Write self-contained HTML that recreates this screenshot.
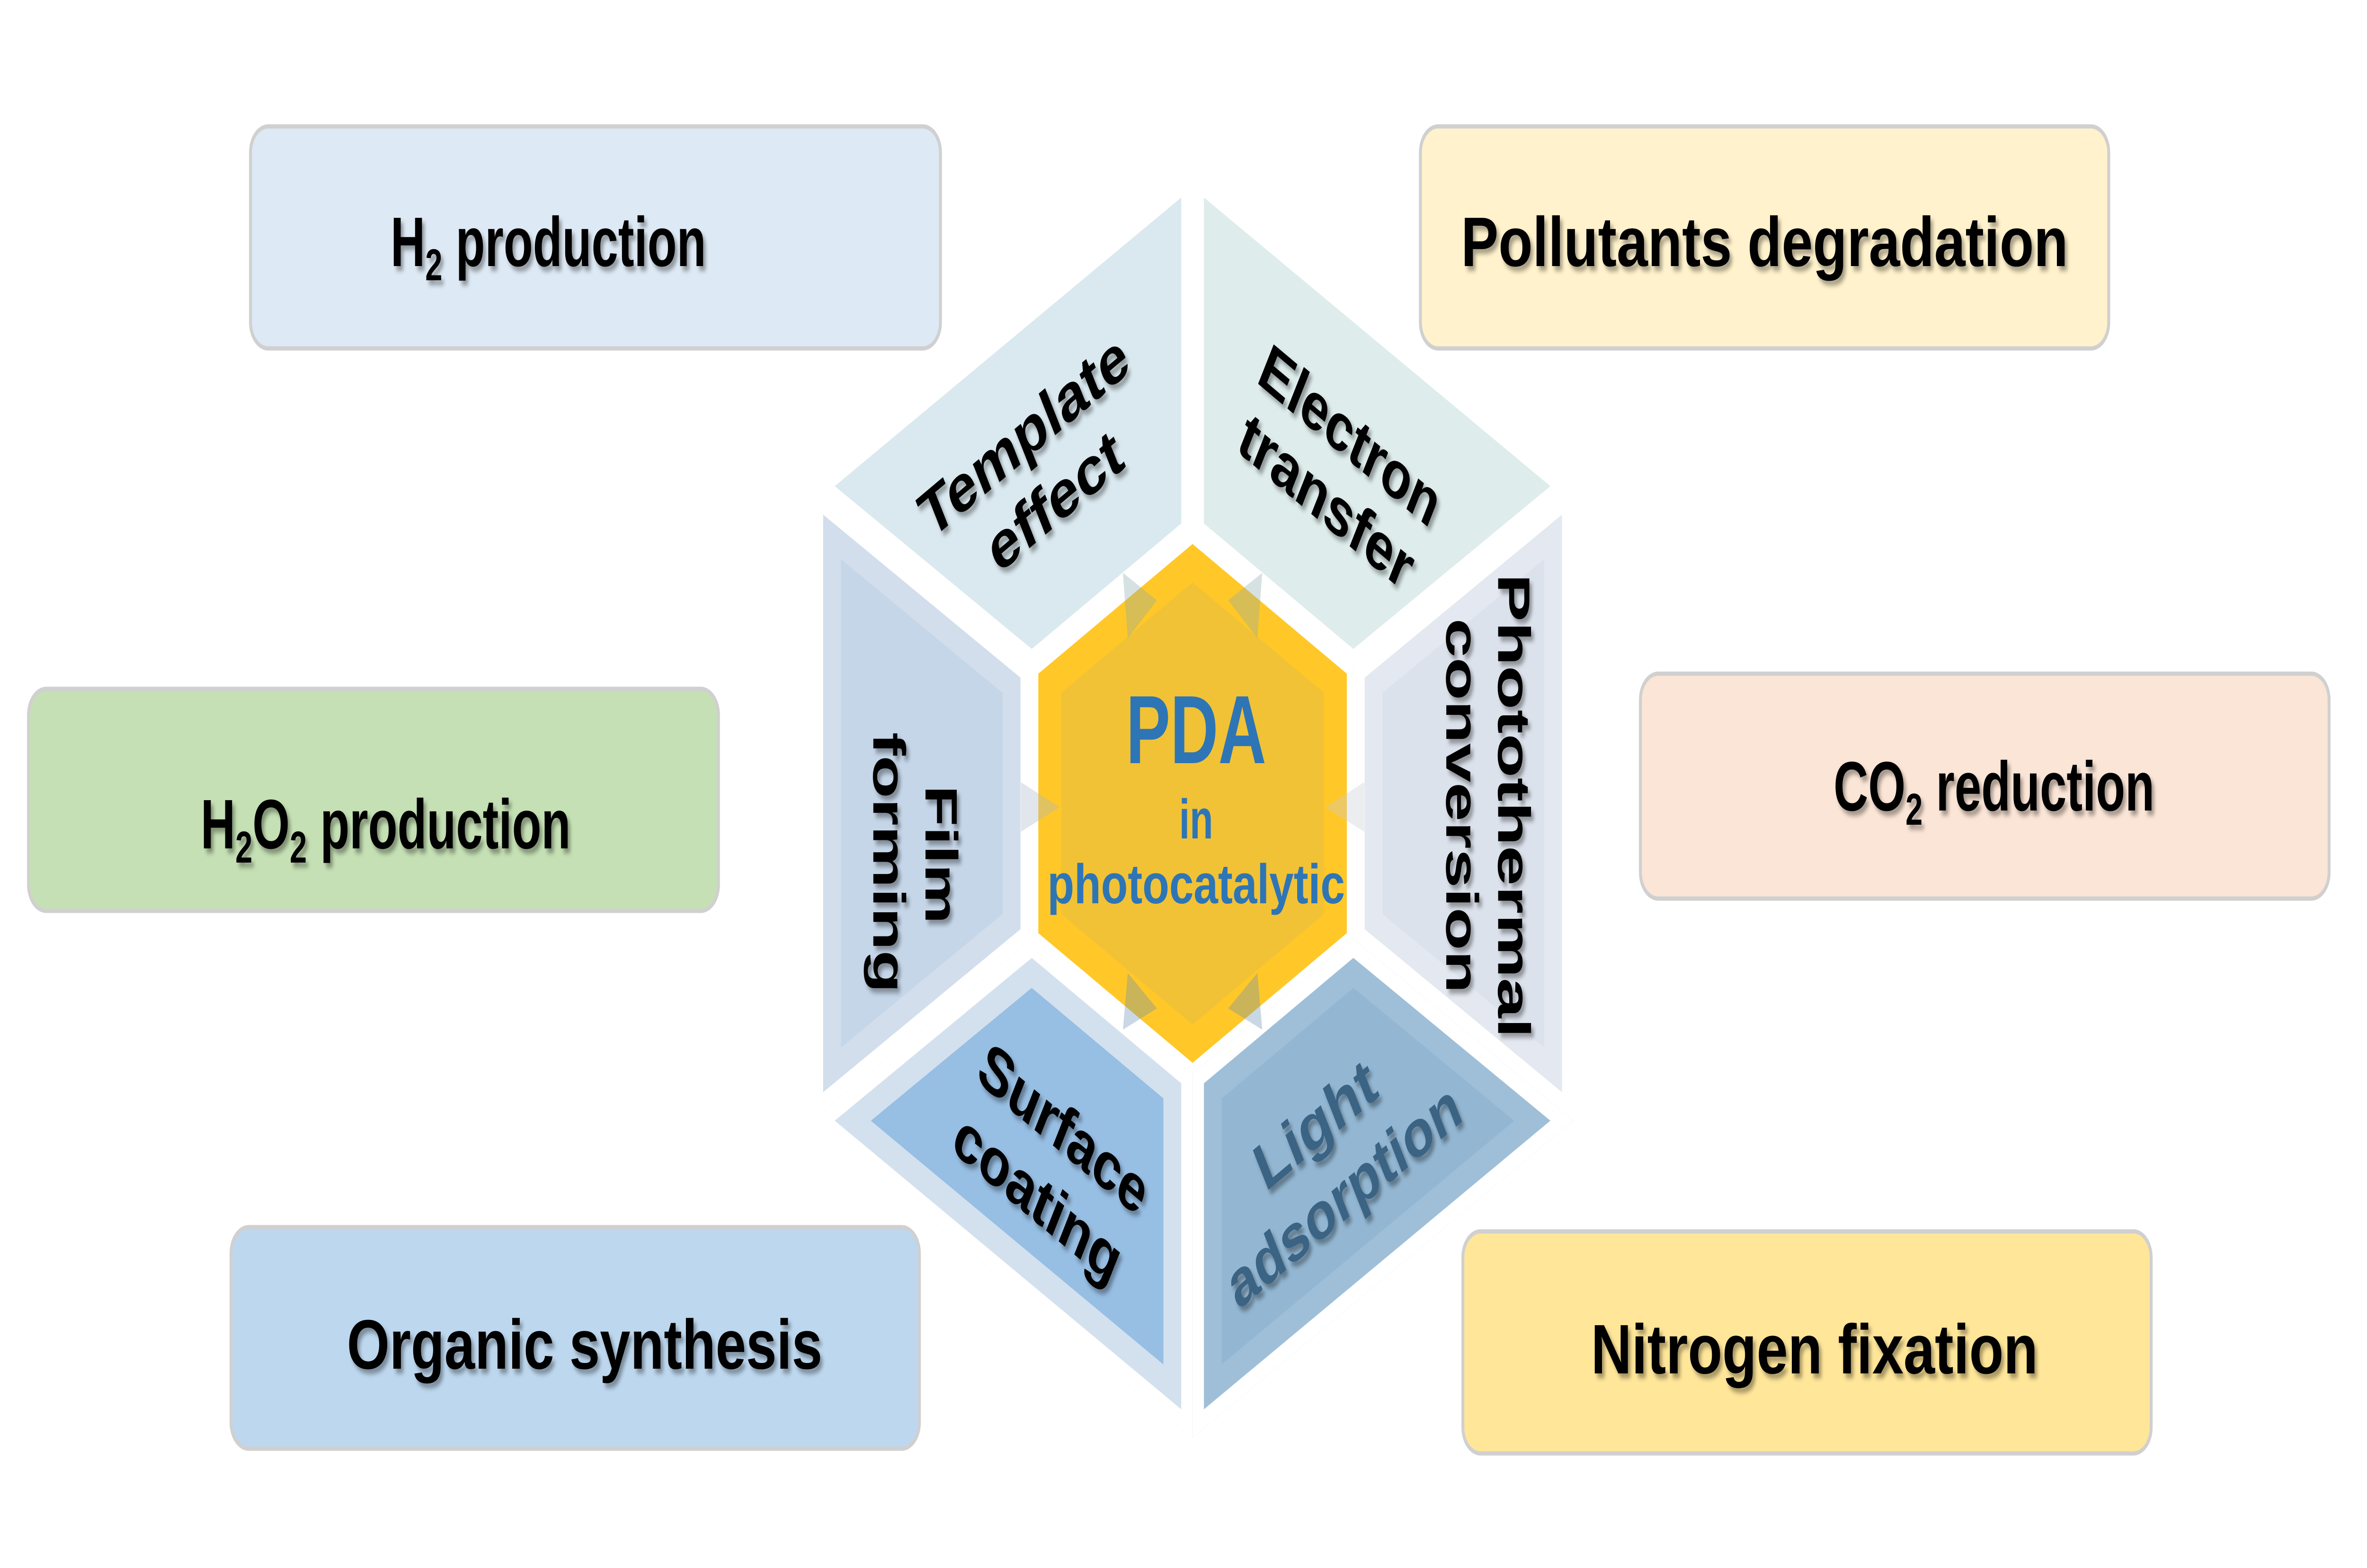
<!DOCTYPE html>
<html><head><meta charset="utf-8"><style>
html,body{margin:0;padding:0;background:#fff;width:100%;height:100%;overflow:hidden;}
svg{display:block;width:100vw;height:100vh;}
text{font-family:"Liberation Sans",Arial,sans-serif;font-weight:bold;}
</style></head><body>
<svg viewBox="0 0 7304 3312" preserveAspectRatio="none" xmlns="http://www.w3.org/2000/svg">
<defs>
<filter id="sh" x="-10%" y="-30%" width="130%" height="160%">
<feDropShadow dx="8" dy="10" stdDeviation="5" flood-color="#000" flood-opacity="0.35"/>
</filter>
<clipPath id="c0"><polygon points="3680,357 4855,1027 4176,1411 3680,1126"/></clipPath>
<clipPath id="c1"><polygon points="4855,1027 4855,2367 4176,1983 4176,1411"/></clipPath>
<clipPath id="c2"><polygon points="4855,2367 3680,3037 3680,2268 4176,1983"/></clipPath>
<clipPath id="c3"><polygon points="3680,3037 2505,2367 3184,1983 3680,2268"/></clipPath>
<clipPath id="c4"><polygon points="2505,2367 2505,1027 3184,1411 3184,1983"/></clipPath>
<clipPath id="c5"><polygon points="2505,1027 3680,357 3680,1126 3184,1411"/></clipPath>
</defs>
<rect width="7304" height="3312" fill="#fff"/>

<g stroke="#d0d0d0" stroke-width="9">
<rect x="773" y="267" width="2129" height="469" rx="55" fill="#dde9f4"/>
<rect x="4383" y="267" width="2124" height="469" rx="55" fill="#fff2cc"/>
<rect x="88" y="1455" width="2129" height="469" rx="55" fill="#c5e0b4"/>
<rect x="5062" y="1423" width="2125" height="475" rx="55" fill="#fbe5d6"/>
<rect x="713" y="2592" width="2124" height="468" rx="55" fill="#bdd7ee"/>
<rect x="4514" y="2601" width="2124" height="469" rx="55" fill="#ffe699"/>
</g>
<g font-size="148" fill="#000" text-anchor="middle" filter="url(#sh)">
<text x="1692" y="562">H<tspan font-size="95" dy="30">2</tspan><tspan dy="-30"> production</tspan></text>
<text x="5445" y="562" textLength="1873" lengthAdjust="spacingAndGlyphs">Pollutants degradation</text>
<text x="1190" y="1792">H<tspan font-size="95" dy="30">2</tspan><tspan dy="-30">O</tspan><tspan font-size="95" dy="30">2</tspan><tspan dy="-30"> production</tspan></text>
<text x="6153" y="1712">CO<tspan font-size="95" dy="30">2</tspan><tspan dy="-30"> reduction</tspan></text>
<text x="1804" y="2891" textLength="1467" lengthAdjust="spacingAndGlyphs">Organic synthesis</text>
<text x="5599" y="2901" textLength="1379" lengthAdjust="spacingAndGlyphs">Nitrogen fixation</text>
</g>

<g clip-path="url(#c0)"><polygon points="3680,357 4855,1027 4176,1411 3680,1126" fill="#deecec" stroke="#fff" stroke-width="70"/></g>
<g clip-path="url(#c1)"><polygon points="4855,1027 4855,2367 4176,1983 4176,1411" fill="#dce2ec" stroke="#e4e8f0" stroke-width="180"/><polygon points="4855,1027 4855,2367 4176,1983 4176,1411" fill="none" stroke="#fff" stroke-width="70"/></g>
<g clip-path="url(#c2)"><polygon points="4855,2367 3680,3037 3680,2268 4176,1983" fill="#93b7d3" stroke="#9fbfd8" stroke-width="180"/><polygon points="4855,2367 3680,3037 3680,2268 4176,1983" fill="none" stroke="#fff" stroke-width="70"/></g>
<g clip-path="url(#c3)"><polygon points="3680,3037 2505,2367 3184,1983 3680,2268" fill="#97bee3" stroke="#d3e1ee" stroke-width="180"/><polygon points="3680,3037 2505,2367 3184,1983 3680,2268" fill="none" stroke="#fff" stroke-width="70"/></g>
<g clip-path="url(#c4)"><polygon points="2505,2367 2505,1027 3184,1411 3184,1983" fill="#c5d6e8" stroke="#d2deec" stroke-width="180"/><polygon points="2505,2367 2505,1027 3184,1411 3184,1983" fill="none" stroke="#fff" stroke-width="70"/></g>
<g clip-path="url(#c5)"><polygon points="2505,1027 3680,357 3680,1126 3184,1411" fill="#d9e9ef" stroke="#fff" stroke-width="70"/></g>

<polygon points="3680,1149 4156,1423 4156,1971 3680,2245 3204,1971 3204,1423" fill="#ffc828"/>
<polygon points="3680,1230 4085,1463 4085,1931 3680,2164 3275,1931 3275,1463" fill="#f1c236"/>
<g opacity="0.35">
<polygon points="3150,1757 3150,1652 3270,1705" fill="#a8b8c8"/>
<polygon points="4210,1757 4210,1652 4090,1705" fill="#c8ccd8"/>
<polygon points="3465,1210 3480,1348 3570,1268" fill="#8aa8a8"/>
<polygon points="3895,1210 3880,1348 3790,1268" fill="#8aa8a8"/>
<polygon points="3465,2175 3480,2055 3570,2130" fill="#6890b8"/>
<polygon points="3895,2175 3880,2055 3790,2130" fill="#6890b8"/>
</g>

<g fill="#2e75b6" text-anchor="middle">
<text x="3691" y="1612" font-size="205">PDA</text>
<text x="3691" y="1771" font-size="118">in</text>
<text x="3691" y="1908" font-size="118" textLength="918" lengthAdjust="spacingAndGlyphs">photocatalytic</text>
</g>

<g font-size="140" fill="#000" text-anchor="middle" filter="url(#sh)">
<g transform="translate(3158,918) rotate(-30)"><text y="50" textLength="720" lengthAdjust="spacingAndGlyphs">Template</text></g>
<g transform="translate(3253,1056) rotate(-30)"><text y="50" textLength="458" lengthAdjust="spacingAndGlyphs">effect</text></g>
<g transform="translate(4168,918) rotate(30)"><text y="50" textLength="623" lengthAdjust="spacingAndGlyphs">Electron</text></g>
<g transform="translate(4095,1056) rotate(30)"><text y="50" textLength="600" lengthAdjust="spacingAndGlyphs">transfer</text></g>
<g transform="translate(4673,1702) rotate(90)"><text y="50" textLength="981" lengthAdjust="spacingAndGlyphs">Photothermal</text></g>
<g transform="translate(4513,1702) rotate(90)"><text y="50" textLength="792" lengthAdjust="spacingAndGlyphs">conversion</text></g>
<g transform="translate(2906,1805) rotate(90)"><text y="50" textLength="293" lengthAdjust="spacingAndGlyphs">Film</text></g>
<g transform="translate(2745,1822) rotate(90)"><text y="50" textLength="551" lengthAdjust="spacingAndGlyphs">forming</text></g>
<g transform="translate(3284,2382) rotate(30)"><text y="50" textLength="582" lengthAdjust="spacingAndGlyphs">Surface</text></g>
<g transform="translate(3204,2528) rotate(30)"><text y="50" textLength="576" lengthAdjust="spacingAndGlyphs">coating</text></g>
<g fill="#3b6383">
<g transform="translate(4057,2373) rotate(-30)"><text y="50" textLength="410" lengthAdjust="spacingAndGlyphs">Light</text></g>
<g transform="translate(4145,2523) rotate(-30)"><text y="50" textLength="808" lengthAdjust="spacingAndGlyphs">adsorption</text></g>
</g>
</g>
</svg>
</body></html>
